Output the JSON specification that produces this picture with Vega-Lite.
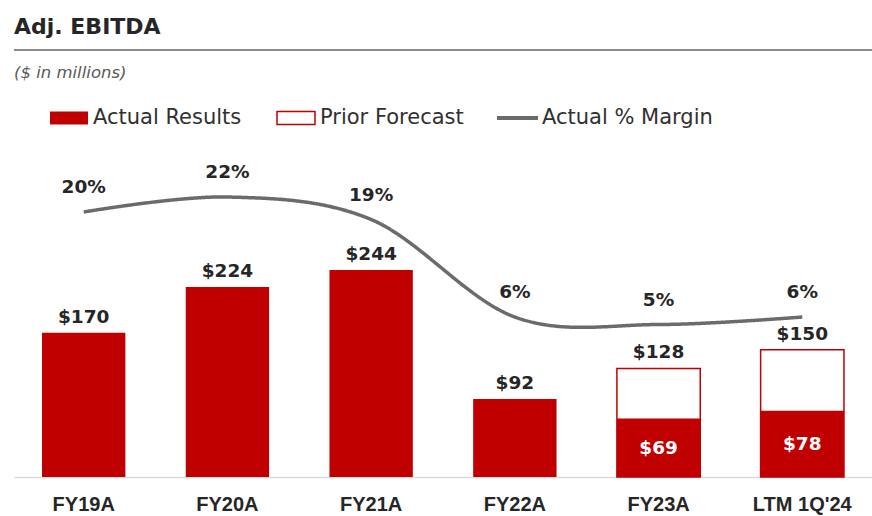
{
  "$schema": "https://vega.github.io/schema/vega-lite/v6.json",
  "width": 858,
  "height": 427,
  "autosize": {"type": "none"},
  "padding": {"left": 14, "top": 50, "right": 0, "bottom": 39},
  "background": "white",
  "title": {
    "text": "Adj. EBITDA",
    "subtitle": "($ in millions)",
    "anchor": "start",
    "frame": "group",
    "orient": "top",
    "offset": -33,
    "font": "DejaVu Sans",
    "fontSize": 22,
    "fontWeight": "bold",
    "color": "#262626",
    "subtitleFont": "DejaVu Sans",
    "subtitleFontSize": 16.5,
    "subtitleFontStyle": "italic",
    "subtitleColor": "#595959",
    "subtitlePadding": 26
  },
  "data": {
    "values": [
      {"cat": "FY19A", "series": "Actual Results", "value": 170},
      {"cat": "FY20A", "series": "Actual Results", "value": 224},
      {"cat": "FY21A", "series": "Actual Results", "value": 244},
      {"cat": "FY22A", "series": "Actual Results", "value": 92},
      {"cat": "FY23A", "series": "Actual Results", "value": 69},
      {"cat": "LTM 1Q'24", "series": "Actual Results", "value": 78},
      {"cat": "FY23A", "series": "Prior Forecast", "value": 128},
      {"cat": "LTM 1Q'24", "series": "Prior Forecast", "value": 150},
      {"cat": "FY19A", "series": "Actual % Margin", "value": 0.20},
      {"cat": "FY20A", "series": "Actual % Margin", "value": 0.22},
      {"cat": "FY21A", "series": "Actual % Margin", "value": 0.19},
      {"cat": "FY22A", "series": "Actual % Margin", "value": 0.06},
      {"cat": "FY23A", "series": "Actual % Margin", "value": 0.05},
      {"cat": "LTM 1Q'24", "series": "Actual % Margin", "value": 0.06}
    ]
  },
  "layer": [
    {
      "transform": [{"aggregate": [{"op": "count", "as": "n"}]}],
      "mark": {"type": "rule", "color": "#8c8c8c", "strokeWidth": 2},
      "encoding": {
        "y": {"datum": 503.5, "type": "quantitative", "scale": {"domain": [0, 503.5]}, "axis": null}
      }
    },
    {
      "transform": [{"filter": "datum.series == 'Prior Forecast'"}],
      "mark": {"type": "bar", "fill": "#ffffff", "strokeWidth": 1.5},
      "encoding": {
        "x": {"field": "cat", "type": "nominal", "title": null, "scale": {"domain": ["FY19A", "FY20A", "FY21A", "FY22A", "FY23A", "LTM 1Q'24"], "paddingInner": 0.42, "paddingOuter": 0.195}},
        "y": {"field": "value", "type": "quantitative", "scale": {"domain": [0, 503.5]}, "axis": null},
        "stroke": {
          "field": "series",
          "type": "nominal",
          "scale": {"domain": ["Prior Forecast"], "range": ["#c00000"]},
          "legend": {
            "title": null, "orient": "none", "legendX": 262, "legendY": 48,
            "symbolType": "M-1,-0.34H1V0.34H-1Z", "symbolSize": 1444,
            "symbolFillColor": "#ffffff", "symbolStrokeWidth": 1.5,
            "labelFont": "DejaVu Sans", "labelFontSize": 21, "labelColor": "#303030",
            "labelOffset": 4, "padding": 0, "labelLimit": 400
          }
        }
      }
    },
    {
      "transform": [{"filter": "datum.series == 'Actual Results'"}],
      "mark": {"type": "bar"},
      "encoding": {
        "x": {"field": "cat", "type": "nominal", "title": null},
        "y": {"field": "value", "type": "quantitative", "scale": {"domain": [0, 503.5]}, "axis": null},
        "color": {
          "field": "series",
          "type": "nominal",
          "scale": {"domain": ["Actual Results"], "range": ["#c00000"]},
          "legend": {
            "title": null, "orient": "none", "legendX": 36, "legendY": 49,
            "symbolType": "M-1,-0.34H1V0.34H-1Z", "symbolSize": 1444,
            "symbolStrokeWidth": 0,
            "labelFont": "DejaVu Sans", "labelFontSize": 21, "labelColor": "#303030",
            "labelOffset": 5, "padding": 0, "labelLimit": 400
          }
        }
      }
    },
    {
      "transform": [{"filter": "datum.series == 'Actual % Margin'"}],
      "mark": {"type": "line", "interpolate": "cardinal", "strokeWidth": 3.5, "color": "#6b6b6b"},
      "encoding": {
        "x": {"field": "cat", "type": "nominal", "title": null},
        "y": {"field": "value", "type": "quantitative", "scale": {"domain": [-0.1533, 0.416]}, "axis": null},
        "strokeDash": {
          "field": "series",
          "type": "nominal",
          "scale": {"domain": ["Actual % Margin"], "range": [[1, 0]]},
          "legend": {
            "title": null, "orient": "none", "legendX": 481, "legendY": 45.5,
            "symbolType": "stroke", "symbolSize": 1681,
            "symbolStrokeColor": "#6b6b6b", "symbolStrokeWidth": 4,
            "labelFont": "DejaVu Sans", "labelFontSize": 21, "labelColor": "#303030",
            "labelOffset": 2, "padding": 0, "labelLimit": 400
          }
        }
      }
    },
    {
      "transform": [{"filter": "datum.series == 'Prior Forecast' || (datum.series == 'Actual Results' && datum.cat != 'FY23A' && datum.cat != \"LTM 1Q'24\")"}],
      "mark": {"type": "text", "baseline": "middle", "dy": -16, "font": "DejaVu Sans", "fontWeight": "bold", "fontSize": 18.5, "color": "#262626"},
      "encoding": {
        "x": {"field": "cat", "type": "nominal", "title": null},
        "y": {"field": "value", "type": "quantitative", "scale": {"domain": [0, 503.5]}, "axis": null},
        "text": {"field": "value", "type": "quantitative", "format": "$.0f"}
      }
    },
    {
      "transform": [{"filter": "datum.series == 'Actual Results' && (datum.cat == 'FY23A' || datum.cat == \"LTM 1Q'24\")"}],
      "mark": {"type": "text", "baseline": "middle", "font": "DejaVu Sans", "fontWeight": "bold", "fontSize": 18.5, "color": "#ffffff"},
      "encoding": {
        "x": {"field": "cat", "type": "nominal", "title": null},
        "y": {"field": "value", "type": "quantitative", "scale": {"domain": [0, 1007]}, "axis": null},
        "text": {"field": "value", "type": "quantitative", "format": "$.0f"}
      }
    },
    {
      "transform": [{"filter": "datum.series == 'Actual % Margin'"}],
      "mark": {"type": "text", "baseline": "middle", "dy": -25, "font": "DejaVu Sans", "fontWeight": "bold", "fontSize": 18.5, "color": "#262626"},
      "encoding": {
        "x": {"field": "cat", "type": "nominal", "title": null},
        "y": {"field": "value", "type": "quantitative", "scale": {"domain": [-0.1533, 0.416]}, "axis": null},
        "text": {"field": "value", "type": "quantitative", "format": ".0%"}
      }
    }
  ],
  "resolve": {"scale": {"y": "independent"}},
  "config": {
    "view": {"stroke": null},
    "axisX": {
      "labelFont": "Liberation Sans",
      "labelFontWeight": "bold",
      "labelFontSize": 20,
      "labelColor": "#262626",
      "labelAngle": 0,
      "ticks": false,
      "tickSize": 0,
      "labelPadding": 17,
      "domainColor": "#d9d9d9",
      "domainWidth": 1.5,
      "grid": false
    }
  }
}
